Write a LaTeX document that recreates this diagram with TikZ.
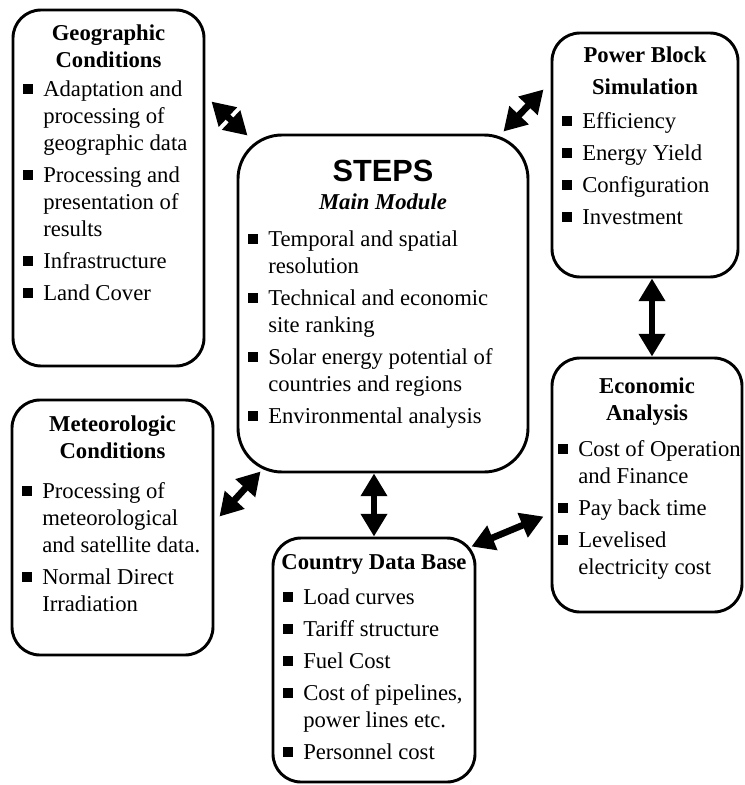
\documentclass[tikz,border=0pt]{standalone}
\usepackage{fontspec}
\setmainfont{Liberation Serif}
\newfontfamily\stepsfont{Liberation Sans}
\usetikzlibrary{arrows.meta,fit,positioning}

\newcommand{\sq}{\rule[1.5pt]{7.5pt}{7.5pt}}

\tikzset{
  box/.style={draw, line width=2.2pt, rounded corners=21pt, inner sep=0pt},
  head/.style={inner sep=0pt, align=center, font=\fontsize{17}{20.25}\selectfont\bfseries},
  list/.style={anchor=north west, inner sep=0pt, font=\fontsize{17}{20.25}\selectfont},
  link/.style={line width=5pt,
    {Triangle[length=17pt,width=19pt]}-{Triangle[length=17pt,width=19pt]}}
}

\begin{document}
\begin{tikzpicture}[x=0.75pt, y=-0.75pt]
\useasboundingbox (0,0) rectangle (744,785);

% boxes
\node[box, fit={(13,10) (204,366)}] (geo) {};
\node[box, rounded corners=33pt, fit={(238,135) (528,472)}] (main) {};
\node[box, fit={(552,33) (738,277)}] (power) {};
\node[box, fit={(552,358) (742,612)}] (econ) {};
\node[box, fit={(12,400) (213,655)}] (meteo) {};
\node[box, fit={(273,538) (475,782)}] (country) {};

% titles
\node[head, below=12pt of geo.north] (geohead) {Geographic\\Conditions};
\node[head, below=20pt of main.north] (mainhead)
  {{\stepsfont\fontsize{23}{23}\selectfont STEPS}\\[0.75pt]\itshape Main Module};
\node[head, below=11pt of power.north] (powerhead) {Power Block\\[3.75pt]Simulation};
\node[head, below=16pt of econ.north] (econhead) {Economic\\Analysis};
\node[head, below=13pt of meteo.north] (meteohead) {Meteorologic\\Conditions};
\node[head, below=13pt of country.north] (countryhead) {Country Data Base};

% item lists
\node[list] (geolist) at (23,77) {%
  \begin{tabular}{@{}l@{\hspace{7.5pt}}l@{}}
  \sq & Adaptation and\\ & processing of\\ & geographic data\\[3.75pt]
  \sq & Processing and\\ & presentation of\\ & results\\[3.75pt]
  \sq & Infrastructure\\[3.75pt]
  \sq & Land Cover
  \end{tabular}};
\node[list] (mainlist) at (248,227) {%
  \begin{tabular}{@{}l@{\hspace{7.5pt}}l@{}}
  \sq & Temporal and spatial\\ & resolution\\[3.75pt]
  \sq & Technical and economic\\ & site ranking\\[3.75pt]
  \sq & Solar energy potential of\\ & countries and regions\\[3.75pt]
  \sq & Environmental analysis
  \end{tabular}};
\node[list] (powerlist) at (562,109) {%
  \begin{tabular}{@{}l@{\hspace{7.5pt}}l@{}}
  \sq & Efficiency\\[3.75pt]
  \sq & Energy Yield\\[3.75pt]
  \sq & Configuration\\[3.75pt]
  \sq & Investment
  \end{tabular}};
\node[list] (econlist) at (558,437) {%
  \begin{tabular}{@{}l@{\hspace{7.5pt}}l@{}}
  \sq & Cost of Operation\\ & and Finance\\[3.75pt]
  \sq & Pay back time\\[3.75pt]
  \sq & Levelised\\ & electricity cost
  \end{tabular}};
\node[list] (meteolist) at (22,479) {%
  \begin{tabular}{@{}l@{\hspace{7.5pt}}l@{}}
  \sq & Processing of\\ & meteorological\\ & and satellite data.\\[3.75pt]
  \sq & Normal Direct\\ & Irradiation
  \end{tabular}};
\node[list] (countrylist) at (283,585) {%
  \begin{tabular}{@{}l@{\hspace{7.5pt}}l@{}}
  \sq & Load curves\\[3.75pt]
  \sq & Tariff structure\\[3.75pt]
  \sq & Fuel Cost\\[3.75pt]
  \sq & Cost of pipelines,\\ & power lines etc.\\[3.75pt]
  \sq & Personnel cost
  \end{tabular}};

% links
\draw[link] ([shift={(6,93)}]geo.north east) -- ([shift={(11,2)}]main.north west);
\draw[link] ([shift={(-26,-2)}]main.north east) -- ([shift={(-7,-189)}]power.south west);
\draw[link] ([xshift=5.25pt]power.south) -- ([xshift=5.25pt]power.south |- econ.north);
\draw[link] (country.north) -- (country.north |- main.south);
\draw[link] ([shift={(-5,10)}]country.north east) -- ([shift={(-7,160)}]econ.north west);
\draw[link] ([shift={(5,118)}]meteo.north east) -- ([shift={(24,-2)}]main.south west);
\end{tikzpicture}
\end{document}
